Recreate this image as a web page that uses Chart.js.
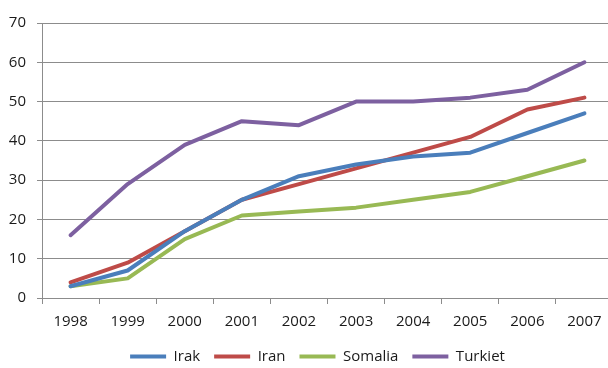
<!DOCTYPE html>
<html>
<head>
<meta charset="utf-8">
<script src="https://cdn.jsdelivr.net/npm/chart.js@4"></script>
<style>
  html, body { margin: 0; padding: 0; background: #fff; overflow: hidden; }
  #wrap { position: absolute; left: 0; top: 0; width: 630px; height: 374px; }
</style>
</head>
<body>
<div id="wrap"><canvas id="chart" width="630" height="374"></canvas></div>
<script>
const years = ['1998', '1999', '2000', '2001', '2002', '2003', '2004', '2005', '2006', '2007'];
const irak = [3, 7, 17, 25, 31, 34, 36, 37, 42, 47];
const iran = [4, 9, 17, 25, 29, 33, 37, 41, 48, 51];
const somalia = [3, 5, 15, 21, 22, 23, 25, 27, 31, 35];
const turkiet = [16, 29, 39, 45, 44, 50, 50, 51, 53, 60];

const gridColor = '#8c8c8c';
const textColor = '#1a1a1a';
const fontFamily = '"Open Sans", sans-serif';

function line(label, data, color) {
  return {
    label: label,
    data: data,
    borderColor: color,
    backgroundColor: color,
    borderWidth: 4,
    pointRadius: 0,
    pointHoverRadius: 0,
    tension: 0,
    borderCapStyle: 'round',
    borderJoinStyle: 'round',
  };
}

// the original legend sits a bit right of the canvas centre
const legendShift = {
  id: 'legendShift',
  afterLayout(chart) {
    chart.legend.left += 11;
    chart.legend.right += 11;
  },
};

new Chart(document.getElementById('chart'), {
  type: 'line',
  data: {
    labels: years,
    datasets: [
      line('Irak', irak, '#4a7ebb'),
      line('Iran', iran, '#be4b48'),
      line('Somalia', somalia, '#98b954'),
      line('Turkiet', turkiet, '#7d60a0'),
    ],
  },
  plugins: [legendShift],
  options: {
    responsive: false,
    animation: false,
    layout: { padding: { top: 23, left: 0, right: 17, bottom: 0 } },
    plugins: {
      tooltip: { enabled: false },
      legend: {
        position: 'bottom',
        labels: {
          usePointStyle: true,
          pointStyle: 'line',
          pointStyleWidth: 36,
          padding: 14,
          color: textColor,
          font: { family: fontFamily, size: 15 },
        },
      },
    },
    scales: {
      x: {
        offset: true,
        grid: { drawOnChartArea: false, offset: true, tickLength: 6, color: gridColor },
        border: { color: gridColor, width: 1 },
        ticks: { color: textColor, font: { family: fontFamily, size: 15 }, padding: 9, maxRotation: 0 },
        afterFit: (scale) => { scale.height = 37; },
      },
      y: {
        min: 0,
        max: 70,
        ticks: { stepSize: 10, color: textColor, font: { family: fontFamily, size: 15 }, padding: 11 },
        grid: { color: gridColor, tickLength: 5 },
        border: { color: gridColor, width: 1 },
        afterFit: (scale) => { scale.width = 42; },
      },
    },
  },
});
</script>
</body>
</html>
